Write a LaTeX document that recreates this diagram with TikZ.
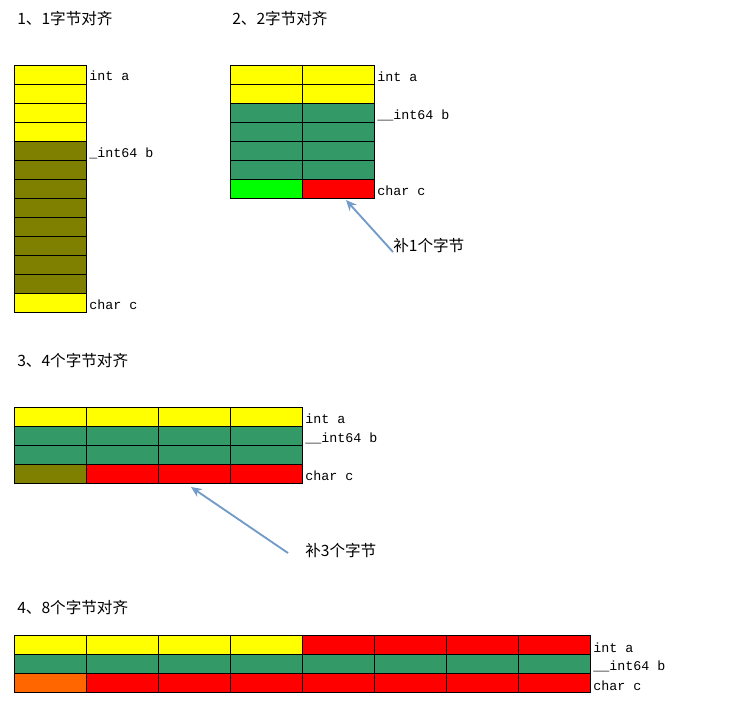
\documentclass[tikz,border=0pt]{standalone}
\usepackage{fontspec}
\setmonofont{Liberation Mono}
\newfontfamily\cjk{Noto Sans CJK SC}
\usetikzlibrary{arrows.meta}
\definecolor{yel}{HTML}{FFFF00}
\definecolor{oli}{HTML}{808000}
\definecolor{grn}{HTML}{339966}
\definecolor{lim}{HTML}{00FF00}
\definecolor{rd}{HTML}{FF0000}
\definecolor{org}{HTML}{FF6600}
\definecolor{arr}{HTML}{729BC8}
\begin{document}
\begin{tikzpicture}[x=0.75pt,y=-0.75pt,
  cell/.style={draw=black, line width=0.75pt, rectangle, inner sep=0pt,
    minimum width=54pt, minimum height=14.25pt, anchor=north west},
  lbl/.style={anchor=west, inner sep=0pt, font=\ttfamily\fontsize{10pt}{12pt}\selectfont},
  ttl/.style={anchor=west, inner sep=0pt, font=\cjk\fontsize{11.7pt}{13pt}\selectfont},
  note/.style={anchor=west, inner sep=0pt, font=\cjk\fontsize{11.7pt}{13pt}\selectfont},
  pointer/.style={draw=arr, line width=1.4pt, -{Stealth[length=8pt,width=7pt]}}]
\useasboundingbox (0,0) rectangle (744,707);
% titles
\node[ttl] (t1) at (17,19) {1、1字节对齐};
\node[ttl] (t2) at (232,19) {2、2字节对齐};
\node[ttl] (t3) at (17,361) {3、4个字节对齐};
\node[ttl] (t4) at (17,608) {4、8个字节对齐};
% section 1
\foreach \i/\c in {0/yel,1/yel,2/yel,3/yel,4/oli,5/oli,6/oli,7/oli,8/oli,9/oli,10/oli,11/oli,12/yel}
  \node[cell, fill=\c] (a\i) at (14,{65+\i*19}) {};
\node[lbl] (la1) at (89,76) {int a};
\node[lbl] (la2) at (89,153) {\_int64 b};
\node[lbl] (la3) at (89,305) {char c};
% section 2
\foreach \i/\c in {0/yel,1/yel,2/grn,3/grn,4/grn,5/grn} {
  \node[cell, fill=\c] (b\i x0) at (230,{65+\i*19}) {};
  \node[cell, fill=\c] (b\i x1) at (302,{65+\i*19}) {};
}
\node[cell, fill=lim] (b6x0) at (230,179) {};
\node[cell, fill=rd] (b6x1) at (302,179) {};
\node[lbl] (lb1) at (377,77) {int a};
\node[lbl] (lb2) at (377,115) {\_\_int64 b};
\node[lbl] (lb3) at (377,191) {char c};
\node[note] (nb) at (393,246) {补1个字节};
\coordinate (tb) at (393,252);
\coordinate (hb) at (346,200);
\draw[pointer] (tb) -- (hb);
% section 3
\foreach \j in {0,1,2,3} {
  \node[cell, fill=yel] (c0x\j) at ({14+\j*72},407) {};
  \node[cell, fill=grn] (c1x\j) at ({14+\j*72},426) {};
  \node[cell, fill=grn] (c2x\j) at ({14+\j*72},445) {};
}
\node[cell, fill=oli] (c3x0) at (14,464) {};
\foreach \j in {1,2,3}
  \node[cell, fill=rd] (c3x\j) at ({14+\j*72},464) {};
\node[lbl] (lc1) at (305,419) {int a};
\node[lbl] (lc2) at (305,438) {\_\_int64 b};
\node[lbl] (lc3) at (305,476) {char c};
\node[note] (nc) at (305,551) {补3个字节};
\coordinate (tc) at (288,553);
\coordinate (hc) at (191,487);
\draw[pointer] (tc) -- (hc);
% section 4
\foreach \j in {0,1,2,3}
  \node[cell, fill=yel] (d0x\j) at ({14+\j*72},635) {};
\foreach \j in {4,5,6,7}
  \node[cell, fill=rd] (d0x\j) at ({14+\j*72},635) {};
\foreach \j in {0,...,7}
  \node[cell, fill=grn] (d1x\j) at ({14+\j*72},654) {};
\node[cell, fill=org] (d2x0) at (14,673) {};
\foreach \j in {1,...,7}
  \node[cell, fill=rd] (d2x\j) at ({14+\j*72},673) {};
\node[lbl] (ld1) at (593,648) {int a};
\node[lbl] (ld2) at (593,666) {\_\_int64 b};
\node[lbl] (ld3) at (593,686) {char c};
\end{tikzpicture}
\end{document}
